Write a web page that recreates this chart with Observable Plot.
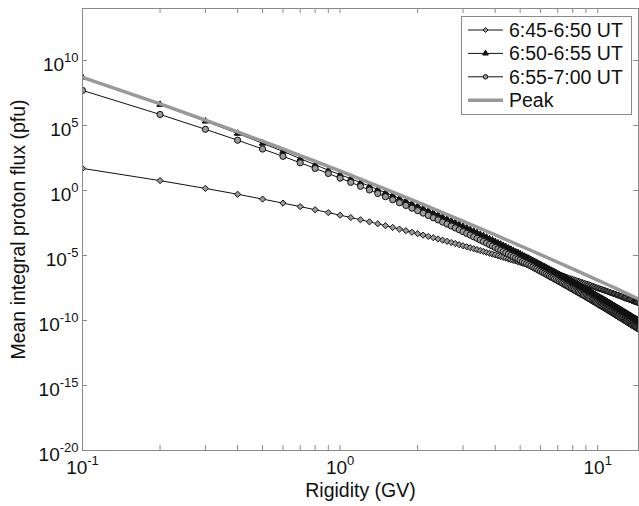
<!DOCTYPE html>
<html><head><meta charset="utf-8">
<script src="https://cdn.jsdelivr.net/npm/d3@7"></script>
<script src="https://cdn.jsdelivr.net/npm/@observablehq/plot@0.6"></script>
<style>
body{margin:0;background:#fff;font-family:"Liberation Sans",Arial,sans-serif;}
#wrap{position:relative;width:639px;height:506px;}
#legend{position:absolute;left:461px;top:16px;}
</style></head><body><div id="wrap"></div>
<script>
// Rigidity grid (GV)
const rigidity = [0.1,0.2,0.3,0.4,0.5,0.6,0.7,0.8,0.9,1.0,1.1,1.2,1.3,1.4,1.5,1.6,1.7,1.8,1.9,2.0,
2.1,2.2,2.3,2.4,2.5,2.6,2.7,2.8,2.9,3.0,3.1,3.2,3.3,3.4,3.5,3.6,3.7,3.8,3.9,4.0,
4.1,4.2,4.3,4.4,4.5,4.6,4.7,4.8,4.9,5.0,5.1,5.2,5.3,5.4,5.5,5.6,5.7,5.8,5.9,6.0,
6.1,6.2,6.3,6.4,6.5,6.6,6.7,6.8,6.9,7.0,7.1,7.2,7.3,7.4,7.5,7.6,7.7,7.8,7.9,8.0,
8.1,8.2,8.3,8.4,8.5,8.6,8.7,8.8,8.9,9.0,9.1,9.2,9.3,9.4,9.5,9.6,9.7,9.8,9.9,10.0,
10.1,10.2,10.3,10.4,10.5,10.6,10.7,10.8,10.9,11.0,11.1,11.2,11.3,11.4,11.5,11.6,11.7,11.8,11.9,12.0,
12.1,12.2,12.3,12.4,12.5,12.6,12.7,12.8,12.9,13.0,13.1,13.2,13.3,13.4,13.5,13.6,13.7,13.8,13.9,14.0,
14.1,14.2,14.3,14.4,14.5,14.6];

// log10 of mean integral proton flux (pfu)
const log645 = [1.70,0.76,0.16,-0.29,-0.66,-0.97,-1.24,-1.48,-1.70,-1.90,
-2.08,-2.25,-2.41,-2.56,-2.71,-2.84,-2.97,-3.09,-3.21,-3.32,
-3.43,-3.53,-3.63,-3.73,-3.82,-3.91,-4.00,-4.08,-4.17,-4.25,
-4.33,-4.40,-4.48,-4.55,-4.62,-4.69,-4.76,-4.83,-4.89,-4.95,
-5.02,-5.08,-5.14,-5.20,-5.26,-5.32,-5.37,-5.42,-5.48,-5.53,
-5.59,-5.64,-5.69,-5.73,-5.78,-5.83,-5.88,-5.93,-5.98,-6.02,
-6.06,-6.11,-6.15,-6.20,-6.24,-6.29,-6.33,-6.37,-6.41,-6.45,
-6.49,-6.53,-6.57,-6.61,-6.65,-6.69,-6.73,-6.77,-6.81,-6.84,
-6.87,-6.91,-6.95,-6.98,-7.01,-7.05,-7.09,-7.11,-7.15,-7.18,
-7.21,-7.25,-7.28,-7.31,-7.35,-7.37,-7.41,-7.44,-7.47,-7.50,
-7.53,-7.56,-7.59,-7.62,-7.65,-7.68,-7.71,-7.73,-7.76,-7.79,
-7.82,-7.85,-7.88,-7.90,-7.93,-7.95,-7.98,-8.01,-8.04,-8.06,
-8.09,-8.11,-8.14,-8.16,-8.19,-8.22,-8.25,-8.27,-8.30,-8.32,
-8.34,-8.37,-8.40,-8.42,-8.44,-8.47,-8.49,-8.52,-8.54,-8.56,
-8.58,-8.60,-8.62,-8.65,-8.67,-8.69];

const log650 = [8.70,6.61,5.33,4.39,3.63,3.01,2.45,1.98,1.56,1.22,
0.91,0.61,0.34,0.08,-0.16,-0.38,-0.61,-0.81,-1.01,-1.20,
-1.38,-1.55,-1.73,-1.88,-2.05,-2.19,-2.34,-2.48,-2.62,-2.76,
-2.89,-3.02,-3.14,-3.26,-3.39,-3.49,-3.61,-3.73,-3.83,-3.94,
-4.05,-4.14,-4.24,-4.34,-4.44,-4.53,-4.63,-4.72,-4.80,-4.89,
-4.99,-5.07,-5.16,-5.23,-5.32,-5.40,-5.49,-5.55,-5.64,-5.71,
-5.79,-5.86,-5.93,-6.01,-6.08,-6.16,-6.22,-6.29,-6.35,-6.42,
-6.49,-6.55,-6.62,-6.68,-6.75,-6.81,-6.87,-6.94,-7.00,-7.05,
-7.11,-7.18,-7.23,-7.29,-7.35,-7.39,-7.46,-7.51,-7.56,-7.62,
-7.67,-7.73,-7.77,-7.83,-7.89,-7.94,-8.00,-8.04,-8.10,-8.15,
-8.19,-8.25,-8.30,-8.34,-8.39,-8.44,-8.49,-8.53,-8.58,-8.63,
-8.67,-8.72,-8.77,-8.81,-8.86,-8.90,-8.95,-9.00,-9.04,-9.08,
-9.12,-9.16,-9.21,-9.24,-9.29,-9.33,-9.38,-9.41,-9.46,-9.50,
-9.53,-9.58,-9.62,-9.65,-9.69,-9.74,-9.78,-9.82,-9.85,-9.89,
-9.92,-9.95,-9.99,-10.03,-10.06,-10.10];

const log655 = [7.70,5.85,4.71,3.87,3.19,2.63,2.13,1.70,1.31,0.95,
0.63,0.32,0.04,-0.23,-0.48,-0.71,-0.94,-1.15,-1.36,-1.55,
-1.74,-1.92,-2.10,-2.26,-2.43,-2.58,-2.73,-2.88,-3.02,-3.16,
-3.30,-3.43,-3.56,-3.68,-3.81,-3.92,-4.04,-4.16,-4.27,-4.38,
-4.49,-4.59,-4.69,-4.79,-4.89,-4.99,-5.09,-5.18,-5.27,-5.36,
-5.46,-5.54,-5.63,-5.71,-5.80,-5.88,-5.97,-6.04,-6.13,-6.20,
-6.28,-6.35,-6.43,-6.51,-6.58,-6.66,-6.72,-6.80,-6.86,-6.93,
-7.00,-7.06,-7.13,-7.20,-7.27,-7.33,-7.39,-7.46,-7.52,-7.58,
-7.64,-7.71,-7.76,-7.82,-7.88,-7.93,-8.00,-8.05,-8.10,-8.16,
-8.22,-8.28,-8.32,-8.38,-8.44,-8.49,-8.55,-8.59,-8.65,-8.70,
-8.75,-8.81,-8.86,-8.90,-8.95,-9.00,-9.05,-9.09,-9.14,-9.19,
-9.24,-9.29,-9.34,-9.38,-9.43,-9.47,-9.52,-9.57,-9.61,-9.65,
-9.70,-9.74,-9.79,-9.82,-9.87,-9.91,-9.96,-9.99,-10.04,-10.08,
-10.12,-10.17,-10.21,-10.24,-10.28,-10.33,-10.37,-10.41,-10.44,-10.48,
-10.52,-10.55,-10.59,-10.63,-10.66,-10.70];

const peakRigidity = [0.1,0.2,0.3,0.4,0.5,0.6,0.7,0.8,0.9,1.0,1.2,1.5,2,2.5,3,4,5,6,7,8,9,10,11,12,13,14,14.6];
const logPeak = [8.70,6.66,5.42,4.51,3.79,3.20,2.69,2.25,1.86,1.50,0.88,0.11,-0.90,-1.70,-2.36,-3.41,-4.25,-4.93,-5.52,-6.03,-6.49,-6.90,-7.27,-7.61,-7.93,-8.23,-8.39];

const seriesNames = ["6:45-6:50 UT","6:50-6:55 UT","6:55-7:00 UT","Peak"];
const xMajorTicks = [0.1,1,10];
const xMinorTicks = [0.2,0.3,0.4,0.5,0.6,0.7,0.8,0.9,2,3,4,5,6,7,8,9];
const yMajorTicks = [1e-20,1e-15,1e-10,1e-5,1,1e5,1e10];

const W=639,H=506,mL=82,mR=1,mT=8,mB=56;
const plotW=W-mL-mR, plotH=H-mT-mB;
const axisGray="#8a8a8a";
const tbl=(xs,logs)=>xs.map((r,i)=>({r,f:Math.pow(10,logs[i])}));
const d645=tbl(rigidity,log645), d650=tbl(rigidity,log650), d655=tbl(rigidity,log655), dPeak=tbl(peakRigidity,logPeak);
const fmt=d=>"10^"+Math.round(Math.log10(d));
const xTicksAll=[...xMajorTicks,...xMinorTicks];

const chart = Plot.plot({
  width:W,height:H,marginLeft:mL,marginRight:mR,marginTop:mT,marginBottom:mB,
  style:{fontFamily:"Liberation Sans, Arial, sans-serif",fontSize:"19px",color:"#111",background:"#fff"},
  x:{type:"log",domain:[0.1,14.4]},
  y:{type:"log",domain:[1e-20,1e14]},
  marks:[
    Plot.ruleX(xTicksAll,{stroke:axisGray,insetTop:plotH-5}),
    Plot.ruleX(xTicksAll,{stroke:axisGray,insetBottom:plotH-5}),
    Plot.ruleY(yMajorTicks,{stroke:axisGray,insetRight:plotW-5}),
    Plot.ruleY(yMajorTicks,{stroke:axisGray,insetLeft:plotW-5}),
    Plot.line(d645,{x:"r",y:"f",stroke:"#111",strokeWidth:1,clip:true}),
    Plot.dot(d645,{x:"r",y:"f",symbol:"diamond2",r:2.8,fill:"#9a9a9a",stroke:"#111",strokeWidth:1,clip:true}),
    Plot.line(d650,{x:"r",y:"f",stroke:"#111",strokeWidth:1,clip:true}),
    Plot.dot(d650,{x:"r",y:"f",symbol:"triangle",r:2.4,fill:"#111",stroke:"#111",strokeWidth:1,clip:true}),
    Plot.line(d655,{x:"r",y:"f",stroke:"#111",strokeWidth:1,clip:true}),
    Plot.dot(d655,{x:"r",y:"f",symbol:"circle",r:3.1,fill:"#9a9a9a",stroke:"#111",strokeWidth:1,clip:true}),
    Plot.line(dPeak,{x:"r",y:"f",stroke:"#999",strokeWidth:3.5,clip:true}),
    Plot.frame({stroke:axisGray}),
    Plot.axisX({ticks:xMajorTicks,tickSize:0,tickPadding:10,tickFormat:fmt,fontSize:19,label:"Rigidity (GV)",labelAnchor:"center",labelOffset:46,labelArrow:"none"}),
    Plot.axisY({ticks:yMajorTicks,tickSize:0,tickPadding:4,tickFormat:fmt,fontSize:19,label:"Mean integral proton flux (pfu)",labelAnchor:"center",labelOffset:71,labelArrow:"none"})
  ]
});
document.getElementById("wrap").appendChild(chart);

// superscript exponents in tick labels
d3.select(chart).selectAll('g[aria-label="x-axis tick label"] text, g[aria-label="y-axis tick label"] text').each(function(){
  const isY=this.parentNode.getAttribute("aria-label").startsWith("y");
  const [b,e]=this.textContent.split("^");
  const s=d3.select(this); s.text(null).attr("font-size","19px");
  s.append("tspan").attr("dy",isY?"4":"0").text(b);
  s.append("tspan").attr("dy","-9").attr("font-size","13px").text(e);
});
d3.select(chart).selectAll('g[aria-label="x-axis label"] text, g[aria-label="y-axis label"] text').attr("font-size","19.5px");

// legend
const lg=d3.select("#wrap").append("svg").attr("id","legend").attr("width",171).attr("height",99)
  .style("font-family","Liberation Sans, Arial, sans-serif");
lg.append("rect").attr("x",0.5).attr("y",0.5).attr("width",170).attr("height",98).attr("fill","#fff").attr("stroke",axisGray);
const legSym=[d3.symbolDiamond2,d3.symbolTriangle,d3.symbolCircle,null];
const legSize=[16,14,16,0];
seriesNames.forEach((name,i)=>{
  const cy=14+i*23.4;
  const g=lg.append("g").attr("transform",`translate(0,${cy})`);
  if(i<3){
    g.append("line").attr("x1",7).attr("x2",42).attr("y1",0).attr("y2",0).attr("stroke","#111");
    g.append("path").attr("transform","translate(24.5,0)").attr("d",d3.symbol(legSym[i],legSize[i])())
      .attr("fill",i===1?"#111":"#9a9a9a").attr("stroke","#111");
  } else {
    g.append("line").attr("x1",7).attr("x2",42).attr("y1",0).attr("y2",0).attr("stroke","#999").attr("stroke-width",3.5);
  }
  g.append("text").attr("x",48).attr("y",0).attr("dy","0.36em").attr("font-size","19.5px").attr("fill","#111").text(name);
});
</script></body></html>
